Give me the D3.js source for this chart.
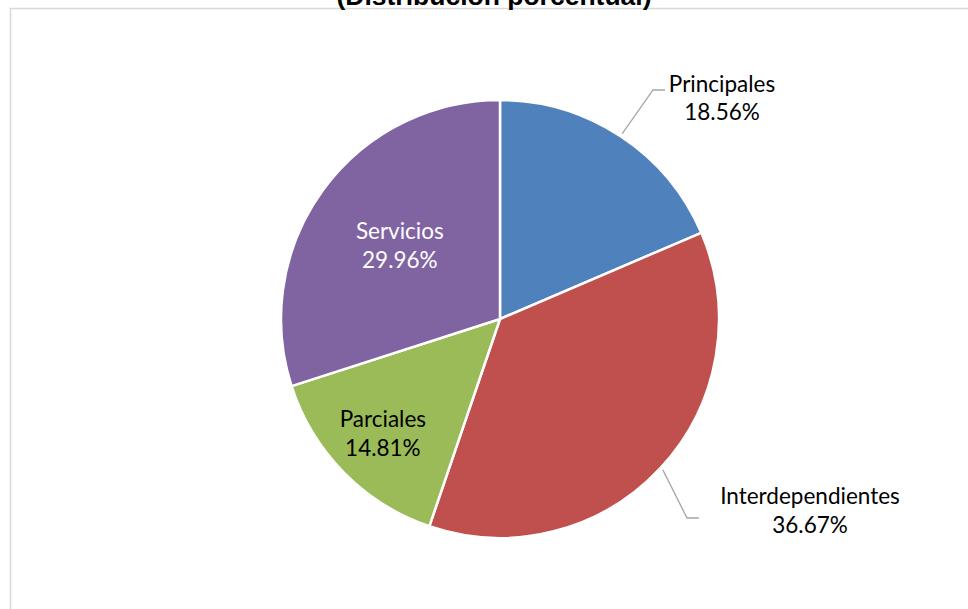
<!DOCTYPE html>
<html><head><meta charset="utf-8">
<script src="https://cdn.jsdelivr.net/npm/d3@7"></script>
<style>html,body{margin:0;padding:0;background:#fff;}svg{display:block;}</style>
</head><body>
<svg id="c" width="968" height="609"></svg>
<script>
// ---- data ----
const categories = ["Principales", "Interdependientes", "Parciales", "Servicios"];
const values = [18.56, 36.67, 14.81, 29.96];
const colors = ["#4F81BD", "#C0504D", "#9BBB59", "#8064A2"];
const title = "(Distribución porcentual)";

// ---- layout ----
const W = 968, H = 609;
const cx = 500, cy = 319, R = 219;
const labelFont = "Lato, 'Open Sans', sans-serif";
const labelSize = 22.5;
// label placement per category: inside (radius fraction) or outside with leader
const labelCfg = [
  {type: "out", elbow: [153, -229], end: [165, -229], text: [222, -227.3], color: "#000"},
  {type: "out", elbow: [187, 199], end: [199, 199], text: [310, 185], color: "#000"},
  {type: "in", rf: 0.75, color: "#000"},
  {type: "in", rf: 0.566, color: "#fff"}
];

const svg = d3.select("#c");
svg.append("rect").attr("width", W).attr("height", H).attr("fill", "#fff");
// chart frame
svg.append("rect").attr("x", 10.5).attr("y", 8.5).attr("width", 1000).attr("height", 700)
  .attr("fill", "none").attr("stroke", "#D9D9D9").attr("stroke-width", 1.5);

// title (clipped at top)
svg.append("text").attr("x", 494).attr("y", 4.5).attr("text-anchor", "middle")
  .attr("font-family", "'Liberation Sans', Arial, sans-serif").attr("font-weight", "bold")
  .attr("font-size", 26.5).attr("fill", "#000").text(title);

const data = categories.map((c, i) => ({cat: c, value: values[i], i}));
const pie = d3.pie().sort(null).value(d => d.value);
const arcs = pie(data);
const arc = d3.arc().innerRadius(0).outerRadius(R);

const g = svg.append("g").attr("transform", `translate(${cx},${cy})`);
g.selectAll("path.slice").data(arcs).join("path").attr("class", "slice")
  .attr("d", arc).attr("fill", d => colors[d.data.i])
  .attr("stroke", "#fff").attr("stroke-width", 2.5).attr("stroke-linejoin", "round");

const fmt = v => v.toFixed(2) + "%";
const lineH = 28.7;

arcs.forEach(a => {
  const cfg = labelCfg[a.data.i];
  const mid = (a.startAngle + a.endAngle) / 2;
  let tx, ty;
  if (cfg.type === "in") {
    const r = R * cfg.rf;
    tx = Math.sin(mid) * r; ty = -Math.cos(mid) * r;
    ty = ty - lineH / 2 + 7.5;
    const t = g.append("text").attr("text-anchor", "middle")
      .attr("font-family", labelFont).attr("font-size", labelSize).attr("fill", cfg.color);
    t.append("tspan").attr("x", tx).attr("y", ty).text(a.data.cat);
    t.append("tspan").attr("x", tx).attr("y", ty + lineH).text(fmt(a.data.value));
  } else {
    const r0 = R + 3;
    const p0 = [Math.sin(mid) * r0, -Math.cos(mid) * r0];
    g.append("polyline").attr("points", [p0, cfg.elbow, cfg.end].map(p => p.join(",")).join(" "))
      .attr("fill", "none").attr("stroke", "#A6A6A6").attr("stroke-width", 1.3);
    const t = g.append("text").attr("text-anchor", "middle")
      .attr("font-family", labelFont).attr("font-size", labelSize).attr("fill", cfg.color);
    t.append("tspan").attr("x", cfg.text[0]).attr("y", cfg.text[1]).text(a.data.cat);
    t.append("tspan").attr("x", cfg.text[0]).attr("y", cfg.text[1] + lineH).text(fmt(a.data.value));
  }
});
</script>
</body></html>
